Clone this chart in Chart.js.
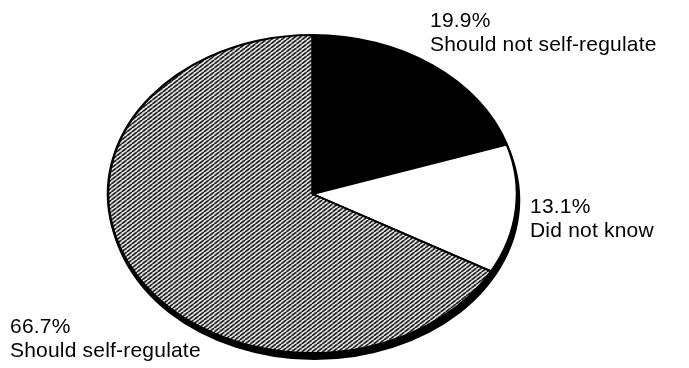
<!DOCTYPE html>
<html>
<head>
<meta charset="utf-8">
<script src="https://cdn.jsdelivr.net/npm/chart.js@4"></script>
<style>
  html, body { margin: 0; padding: 0; background: #fff; }
  canvas { display: block; }
</style>
</head>
<body>
<canvas id="pie" width="689" height="368"></canvas>
<script>
const categories = ["Should not self-regulate", "Did not know", "Should self-regulate"];
const percents = [19.9, 13.1, 66.7];

// hatch tile for the big slice (it gets stretched in x along with the pie)
function makeHatch() {
  const c = document.createElement("canvas");
  c.width = 4;
  c.height = 4;
  const g = c.getContext("2d");
  g.fillStyle = "#fff";
  g.fillRect(0, 0, 4, 4);
  g.strokeStyle = "#000";
  g.lineWidth = 1.5;
  for (let x = -4; x <= 4; x += 4) {
    g.beginPath();
    g.moveTo(x, 4);
    g.lineTo(x + 4, 0);
    g.stroke();
  }
  return document.getElementById("pie").getContext("2d").createPattern(c, "repeat");
}

const stretchX = 1.286;

// squash the round pie into the oval of the scan, with its dark rim underneath
const ovalPlugin = {
  id: "oval",
  beforeDatasetsDraw(chart) {
    const arc = chart.getDatasetMeta(0).data[0];
    const ctx = chart.ctx;
    ctx.save();
    ctx.translate(arc.x, arc.y);
    ctx.scale(stretchX, 1);
    ctx.translate(-arc.x, -arc.y);
    ctx.beginPath();
    ctx.arc(arc.x + 2 / stretchX, arc.y + 6, arc.outerRadius + 1, 0, Math.PI * 2);
    ctx.fillStyle = "#000";
    ctx.fill();
  },
  afterDatasetsDraw(chart) {
    chart.ctx.restore();
  },
};

const labelSpots = [
  { x: 430, y: 27 },
  { x: 530, y: 213 },
  { x: 10, y: 333 },
];

const labelPlugin = {
  id: "sliceLabels",
  afterDraw(chart) {
    const ctx = chart.ctx;
    ctx.save();
    ctx.font = "21px 'Liberation Sans', Arial, sans-serif";
    ctx.letterSpacing = "0.2px";
    ctx.fillStyle = "#000";
    ctx.textAlign = "left";
    ctx.textBaseline = "alphabetic";
    categories.forEach((name, i) => {
      const p = labelSpots[i];
      ctx.fillText(percents[i].toFixed(1) + "%", p.x, p.y);
      ctx.fillText(name, p.x, p.y + 24);
    });
    ctx.restore();
  },
};

const hatch = makeHatch();

new Chart(document.getElementById("pie"), {
  type: "pie",
  data: {
    labels: categories,
    datasets: [
      {
        data: percents,
        backgroundColor: ["#000000", "#ffffff", hatch],
        borderColor: "#000000",
        borderWidth: 2,
        clip: false,
      },
    ],
  },
  options: {
    responsive: false,
    animation: false,
    events: [],
    layout: { padding: { top: 34, bottom: 14, left: 0, right: 64 } },
    plugins: {
      legend: { display: false },
      tooltip: { enabled: false },
    },
  },
  plugins: [ovalPlugin, labelPlugin],
});
</script>
</body>
</html>
